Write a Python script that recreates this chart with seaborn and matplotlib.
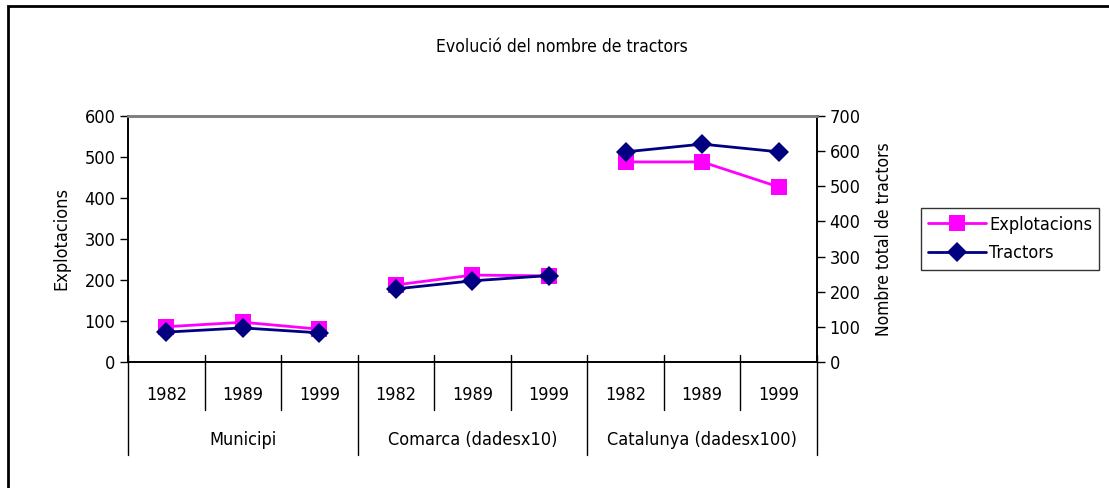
import matplotlib
matplotlib.use("Agg")
import matplotlib.pyplot as plt
import matplotlib.transforms as mtransforms
from matplotlib.lines import Line2D
from matplotlib.patches import Rectangle
import seaborn as sns
import pandas as pd

# data
groups = ["Municipi", "Comarca (dadesx10)", "Catalunya (dadesx100)"]
years = ["1982", "1989", "1999"]
explotacions = [86, 97, 80, 188, 212, 210, 488, 488, 427]
tractors = [85, 97, 83, 208, 231, 246, 598, 620, 598]

sns.set_theme(style="white")
plt.rcParams['font.family'] = ['DejaVu Sans']
plt.rcParams['font.stretch'] = 'condensed'
plt.rcParams['text.color'] = 'black'
plt.rcParams['axes.labelcolor'] = 'black'
plt.rcParams['ytick.color'] = 'black'

rows = []
for i, (e, t) in enumerate(zip(explotacions, tractors)):
    rows.append({"pos": i, "group": groups[i // 3], "year": years[i % 3],
                 "Explotacions": e, "Tractors": t})
df = pd.DataFrame(rows)

fig = plt.figure(figsize=(11.09, 4.88), dpi=100)
ax = fig.add_axes([0.1154, 0.2582, 0.6213, 0.5041])
ax2 = ax.twinx()

sns.lineplot(data=df, x="pos", y="Explotacions", units="group", estimator=None,
             color="#FF00FF", marker="s", markersize=11, markeredgewidth=0,
             linewidth=2, ax=ax, legend=False)
sns.lineplot(data=df, x="pos", y="Tractors", units="group", estimator=None,
             color="#000080", marker="D", markersize=10, markeredgewidth=0,
             linewidth=2, ax=ax2, legend=False)

ax.set_xlim(-0.5, 8.5)
ax.set_ylim(0, 600)
ax2.set_ylim(0, 700)
ax.set_yticks(range(0, 601, 100))
ax2.set_yticks(range(0, 701, 100))
ax.set_xticks([])
ax.set_xlabel("")
ax2.set_xlabel("")
ax.set_ylabel("Explotacions", fontsize=13, labelpad=10)
ax2.set_ylabel("Nombre total de tractors", fontsize=12.5, labelpad=10)

for a in (ax, ax2):
    a.tick_params(axis="y", labelsize=13, length=6, width=1, color="black",
                  direction="out", pad=3)
    for s in a.spines.values():
        s.set_color("black")
        s.set_linewidth(1.2)
    a.spines["top"].set_color("#808080")
    a.spines["top"].set_linewidth(2)
ax.tick_params(axis="y", left=True)
ax2.tick_params(axis="y", right=True)

# multi-level category axis
trans = mtransforms.blended_transform_factory(ax.transData, ax.transAxes)
px = 1.0 / (0.5041 * 488)
for i in range(10):
    x = i - 0.5
    low = -93 * px if i % 3 == 0 else -48 * px
    ax.plot([x, x], [7 * px, low], transform=trans, color="black",
            linewidth=1, clip_on=False)
for i in range(9):
    ax.text(i, -33 * px, years[i % 3], transform=trans, ha="center",
            va="center", fontsize=13)
for g, name in enumerate(groups):
    ax.text(g * 3 + 1, -78 * px, name, transform=trans, ha="center",
            va="center", fontsize=13)

fig.text(0.507, 1 - 47 / 488, "Evolució del nombre de tractors",
         ha="center", va="center", fontsize=12.6)

handles = [
    Line2D([], [], color="#FF00FF", marker="s", markersize=11,
           markeredgewidth=0, linewidth=2),
    Line2D([], [], color="#000080", marker="D", markersize=10,
           markeredgewidth=0, linewidth=2),
]
leg = fig.legend(handles, ["Explotacions", "Tractors"], loc="center",
                 bbox_to_anchor=(1010 / 1109, 1 - 239 / 488), fontsize=13,
                 frameon=True, fancybox=False, handlelength=3.2,
                 borderpad=0.4, labelspacing=0.6, handletextpad=0.2)
leg.get_frame().set_edgecolor("black")
leg.get_frame().set_linewidth(1)

# chart frame
fig.patches.append(Rectangle((8 / 1109, -0.05), 1.2, 1 - 6 / 488 + 0.05,
                             transform=fig.transFigure, fill=False,
                             edgecolor="black", linewidth=2))

fig.savefig("out.png", dpi=100)
